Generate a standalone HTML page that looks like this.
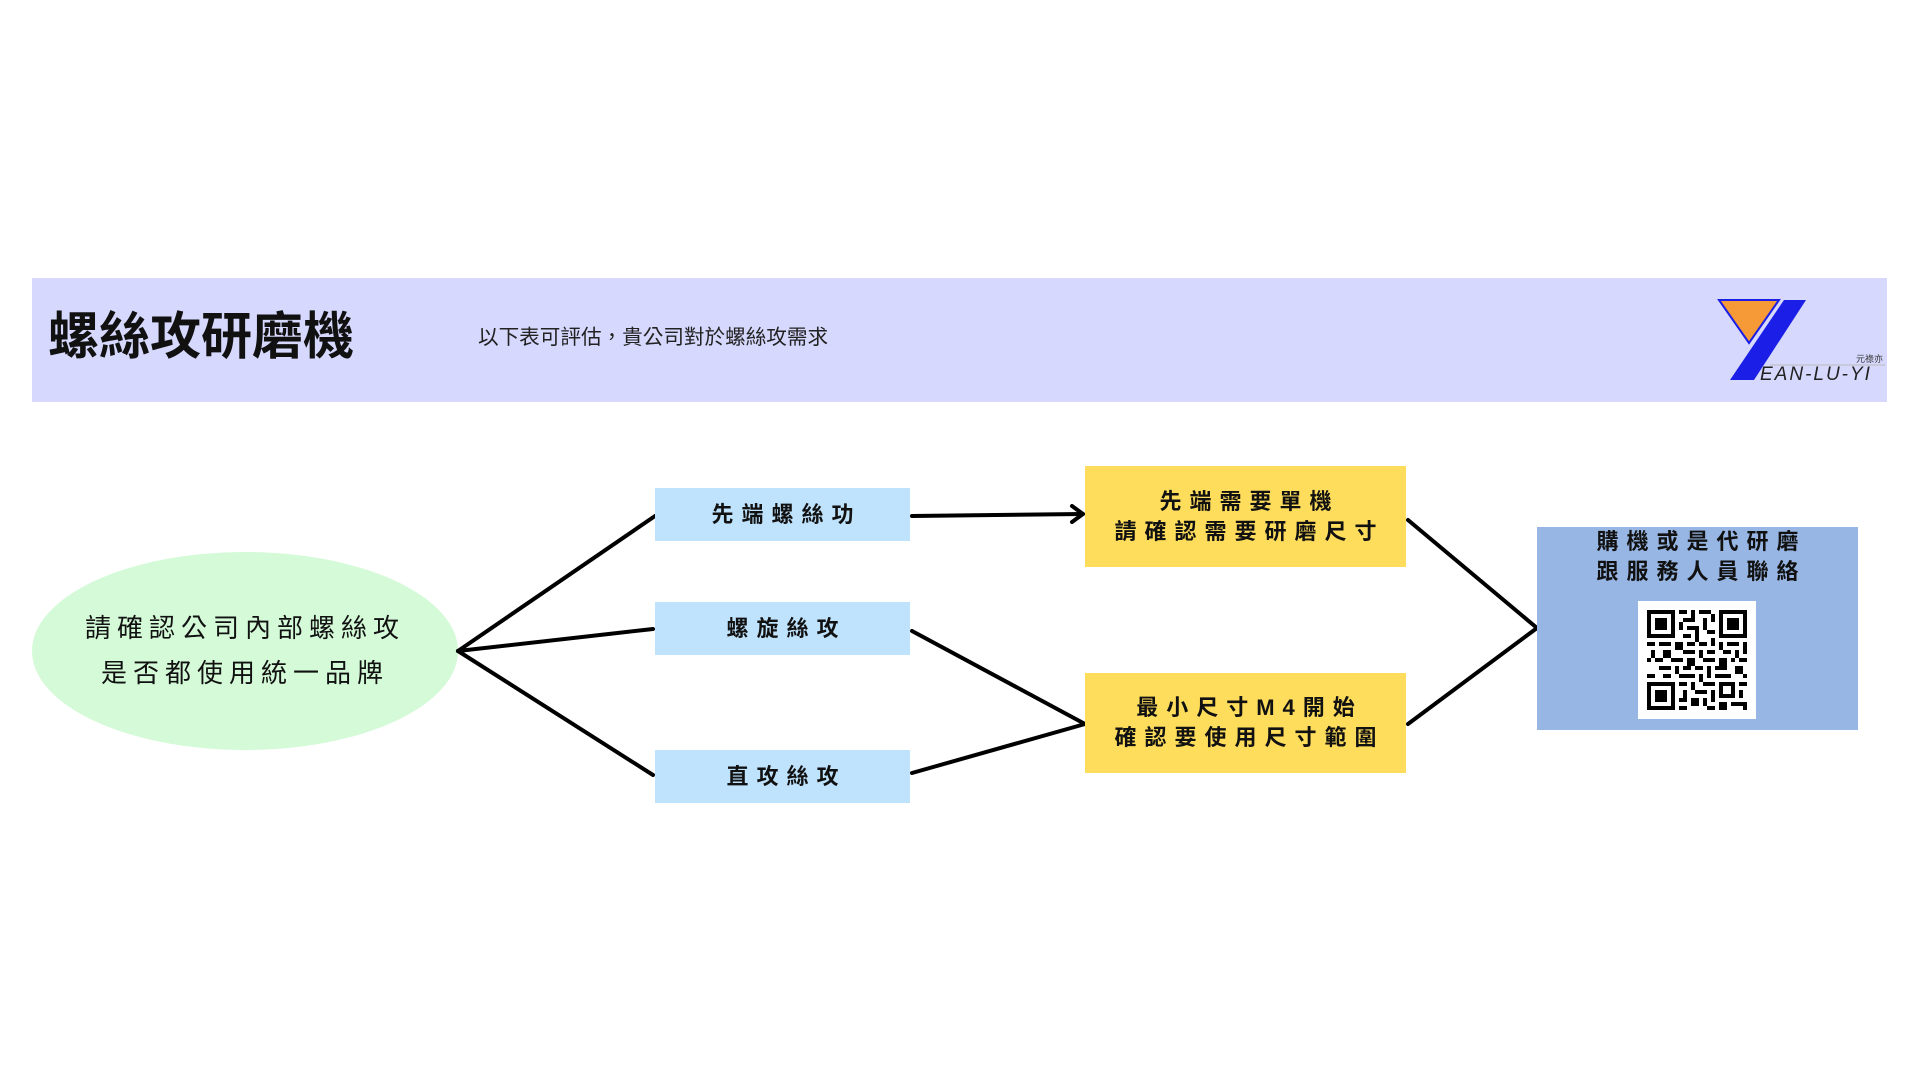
<!DOCTYPE html>
<html><head><meta charset="utf-8">
<style>
html,body{margin:0;padding:0;background:#fff;}
body{width:1920px;height:1080px;position:relative;overflow:hidden;font-family:"Liberation Sans","Noto Sans CJK TC",sans-serif;}
.abs{position:absolute;}
.box{position:absolute;display:flex;align-items:center;justify-content:center;text-align:center;font-weight:bold;color:#111;font-size:22px;letter-spacing:8px;line-height:30px;}
.box span{margin-right:-8px;}
</style></head><body>
<div class="abs" style="left:32px;top:278px;width:1855px;height:124px;background:#d6d8fd;"></div>
<div class="abs" style="left:48px;top:308px;font-size:51px;font-weight:bold;line-height:58px;color:#111;">螺絲攻研磨機</div>
<div class="abs" style="left:478px;top:325px;font-size:20.6px;line-height:26px;color:#222;">以下表可評估，貴公司對於螺絲攻需求</div>
<svg class="abs" style="left:1715px;top:295px" width="175" height="90" viewBox="0 0 175 90">
<polygon points="4,5 64,5 34,48" fill="#f59a36" stroke="#1a1ee6" stroke-width="2"/>
<polygon points="69,5 91,5 39,85 15,85" fill="#1a1ee6"/>
<line x1="55" y1="70" x2="170" y2="70" stroke="#bbb" stroke-width="1"/>
<text x="168" y="67" font-size="9" text-anchor="end" fill="#333" font-family="Noto Sans CJK TC,sans-serif">元祿亦</text>
<text x="45" y="85" font-size="19" font-style="italic" fill="#222" font-family="Liberation Sans,sans-serif" letter-spacing="2">EAN-LU-YI</text>
</svg>
<svg class="abs" style="left:0;top:0" width="1920" height="1080">
<ellipse cx="245" cy="651" rx="213" ry="99" fill="#d4fad8"/>
<g stroke="#000" stroke-width="4" fill="none" stroke-linecap="round">
<line x1="458" y1="651" x2="655" y2="516"/>
<line x1="458" y1="651" x2="653" y2="629"/>
<line x1="458" y1="651" x2="653" y2="775"/>
<line x1="912" y1="516" x2="1082" y2="514"/>
<polyline points="1072,506 1083,514 1072,522"/>
<line x1="912" y1="631" x2="1085" y2="724"/>
<line x1="912" y1="773" x2="1085" y2="724"/>
<line x1="1408" y1="520" x2="1537" y2="628"/>
<line x1="1408" y1="724" x2="1537" y2="628"/>
</g>
</svg>
<div class="abs" style="left:32px;top:606px;width:426px;text-align:center;font-size:26px;line-height:45px;letter-spacing:6px;color:#111;">請確認公司內部螺絲攻<br>是否都使用統一品牌</div>
<div class="box" style="left:655px;top:488px;width:255px;height:53px;background:#bfe3fd;"><span>先端螺絲功</span></div>
<div class="box" style="left:655px;top:602px;width:255px;height:53px;background:#bfe3fd;"><span>螺旋絲攻</span></div>
<div class="box" style="left:655px;top:750px;width:255px;height:53px;background:#bfe3fd;"><span>直攻絲攻</span></div>
<div class="box" style="left:1085px;top:466px;width:321px;height:101px;background:#fedd5c;"><span>先端需要單機<br>請確認需要研磨尺寸</span></div>
<div class="box" style="left:1085px;top:673px;width:321px;height:100px;background:#fedd5c;"><span>最小尺寸M4開始<br>確認要使用尺寸範圍</span></div>
<div class="abs" style="left:1537px;top:527px;width:321px;height:203px;background:#97b6e4;"></div>
<div class="box" style="left:1537px;top:525px;width:321px;height:64px;"><span>購機或是代研磨<br>跟服務人員聯絡</span></div>
<div class="abs" style="left:1638px;top:601px;width:118px;height:118px;background:#fff;"></div>
<svg class="abs" style="left:1647px;top:610px" width="100" height="100" viewBox="0 0 25 25" shape-rendering="crispEdges">
<g fill="#000">
<rect x="0" y="0" width="7" height="7"/><rect x="18" y="0" width="7" height="7"/><rect x="0" y="18" width="7" height="7"/>
</g>
<g fill="#fff">
<rect x="1" y="1" width="5" height="5"/><rect x="19" y="1" width="5" height="5"/><rect x="1" y="19" width="5" height="5"/>
</g>
<g fill="#000">
<rect x="2" y="2" width="3" height="3"/><rect x="20" y="2" width="3" height="3"/><rect x="2" y="20" width="3" height="3"/>
<path d="M8 0h2v1h-2zM11 0h1v2h-1zM13 0h3v1h-3zM9 2h3v1h-3zM14 2h1v3h-1zM16 1h1v2h-1zM8 3h1v2h-1zM10 4h3v1h-3zM12 5h1v3h-1zM15 5h2v1h-2zM9 6h2v1h-2zM16 7h1v2h-1z
M0 8h2v1h-2zM3 8h3v1h-3zM7 8h2v2h-2zM10 8h2v1h-2zM13 8h2v1h-2zM18 8h1v2h-1zM20 8h3v1h-3zM24 8h1v3h-1z
M1 10h1v2h-1zM4 10h2v2h-2zM9 10h3v1h-3zM13 10h1v2h-1zM15 10h2v1h-2zM19 10h2v1h-2zM22 10h1v2h-1z
M0 12h1v1h-1zM2 12h2v1h-2zM6 12h3v1h-3zM10 12h2v2h-2zM14 12h3v1h-3zM18 12h2v2h-2zM21 12h1v1h-1zM23 12h2v1h-2z
M3 14h3v1h-3zM7 14h1v2h-1zM9 14h2v1h-2zM12 14h2v1h-2zM15 14h1v3h-1zM17 14h3v1h-3zM22 14h2v2h-2z
M0 16h2v1h-2zM4 16h2v1h-2zM8 16h4v1h-4zM13 16h1v2h-1zM17 16h4v1h-4zM24 16h1v1h-1z
M8 18h2v1h-2zM11 18h1v2h-1zM14 18h3v1h-3zM18 18h4v4h-4zM23 18h2v1h-2z
M9 20h1v2h-1zM12 20h3v1h-3zM16 20h1v3h-1zM23 20h1v2h-1z
M8 22h2v1h-2zM11 22h2v2h-2zM14 22h1v2h-1zM18 23h2v2h-2zM21 23h3v1h-3zM8 24h2v1h-2zM15 24h2v1h-2zM24 23h1v2h-1z"/>
</g>
<rect x="19" y="19" width="2" height="2" fill="#fff"/>
</svg>
</body></html>
